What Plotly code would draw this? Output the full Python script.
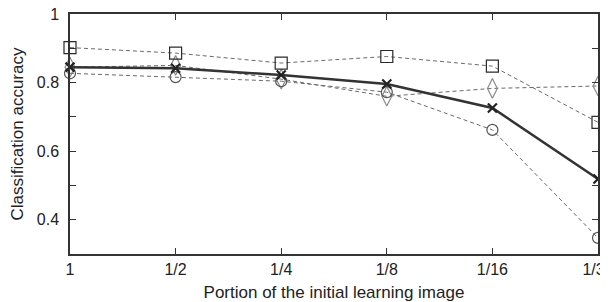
import plotly.graph_objects as go

categories = ["1", "1/2", "1/4", "1/8", "1/16", "1/32"]
squares = [0.902, 0.886, 0.857, 0.876, 0.848, 0.684]
crosses = [0.845, 0.842, 0.822, 0.796, 0.726, 0.519]
circles = [0.827, 0.816, 0.804, 0.772, 0.662, 0.347]
diamonds = [0.845, 0.850, 0.810, 0.760, 0.783, 0.790]
ytick_vals = [0.4, 0.5, 0.6, 0.7, 0.8, 0.9, 1.0]
ytick_text = ["0.4", "", "0.6", "", "0.8", "", "1"]

xs = list(range(len(categories)))
fig = go.Figure()

def dashed(y, symbol, color, size):
    fig.add_trace(go.Scatter(
        x=xs, y=y, mode="lines+markers", cliponaxis=False,
        line=dict(color="#6a6a6a", width=1, dash="4px,3px"),
        marker=dict(symbol=symbol, size=size, color=color,
                    line=dict(color=color, width=1.2)),
        showlegend=False))

dashed(diamonds, "diamond-tall-open", "#8a8a8a", 14)
dashed(circles, "circle-open", "#555555", 11)
dashed(squares, "square-open", "#2a2a2a", 12)

fig.add_trace(go.Scatter(
    x=xs, y=crosses, mode="lines+markers", cliponaxis=False,
    line=dict(color="#333333", width=2.5),
    marker=dict(symbol="x-thin", size=9, color="#222222",
                line=dict(color="#222222", width=2.2)),
    showlegend=False))

# mirrored right axis (labels clipped by the page edge as in the reference)
fig.add_trace(go.Scatter(x=[None], y=[None], yaxis="y2", showlegend=False))

font = dict(family="Liberation Sans, Arial, sans-serif", size=16, color="#222222")
fig.update_layout(
    width=600, height=294,
    margin=dict(l=62, r=10, t=6, b=48),
    paper_bgcolor="white", plot_bgcolor="white",
    font=font,
    xaxis=dict(range=[0, 5], tickvals=xs, ticktext=categories,
               ticks="inside", ticklen=6, tickcolor="#333333",
               automargin=False, ticklabeloverflow="allow",
               showgrid=False, zeroline=False,
               showline=True, linecolor="#333333", linewidth=1.5, mirror="ticks",
               title=dict(text="Portion of the initial learning image",
                          font=dict(size=17)),
               tickfont=dict(size=16)),
    yaxis=dict(range=[0.3, 1.0], tickvals=ytick_vals, ticktext=ytick_text,
               ticks="inside", ticklen=6, tickcolor="#333333",
               ticklabelstandoff=6, automargin=False, ticklabeloverflow="allow",
               showgrid=False, zeroline=False,
               showline=True, linecolor="#333333", linewidth=1.5, mirror=True,
               title=dict(text="Classification accuracy", font=dict(size=17)),
               tickfont=dict(size=16)),
    yaxis2=dict(range=[0.3, 1.0], overlaying="y", side="right",
                tickvals=ytick_vals, ticktext=ytick_text,
                ticks="inside", ticklen=6, tickcolor="#333333",
                ticklabelstandoff=4, automargin=False,
                ticklabeloverflow="allow",
                showgrid=False, zeroline=False, showline=False,
                tickfont=dict(size=16)),
)

fig.write_html("out.html")
